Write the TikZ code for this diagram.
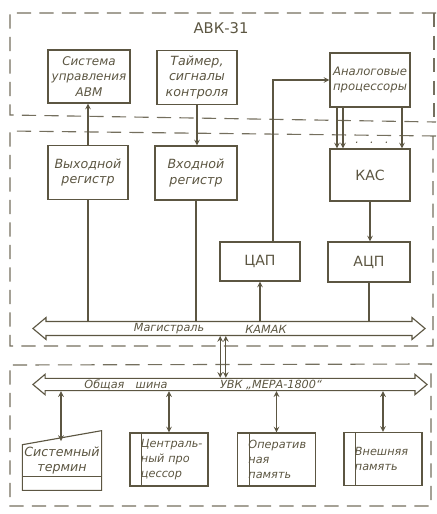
\documentclass[tikz,border=0pt]{standalone}
\usepackage{fontspec}
\setmainfont{DejaVu Sans}[ItalicFont={DejaVu Sans Oblique}]
\usepackage{tikz}
\usetikzlibrary{arrows,shapes,positioning}
\definecolor{ink}{RGB}{92,86,66}
\tikzstyle{block} = [rectangle, minimum width=2cm, minimum height=1.35cm, align=center, draw=ink, text=ink, line width=0.8pt, inner sep=1pt, font=\fontsize{9}{11}\selectfont\itshape]
\tikzstyle{bigblock} = [block, font=\fontsize{10}{12}\selectfont]
\tikzstyle{membox} = [block, minimum width=1.95cm, minimum height=1.325cm, text width=1.4cm, align=left, font=\fontsize{8}{10.5}\selectfont\itshape, path picture={\draw[ink, line width=0.8pt] ([xshift=0.29cm]path picture bounding box.north west) -- ([xshift=0.29cm]path picture bounding box.south west);}]
\tikzstyle{bus} = [shape=double arrow, draw=ink, line width=0.8pt, double arrow head extend=0.1cm, double arrow tip angle=80, inner xsep=0pt, inner ysep=0.16cm, minimum height=9.8cm]
\tikzstyle{tag} = [text=ink, inner sep=0pt, font=\fontsize{8}{10}\selectfont\itshape]
\tikzstyle{wire} = [draw=ink, line width=0.8pt]
\tikzstyle{arrow} = [wire,->,>=stealth]
\tikzstyle{link} = [wire,<->,>=stealth]
\tikzstyle{frame} = [draw=ink!85, line width=0.8pt, dash pattern=on 10pt off 6pt]

\begin{document}
\begin{tikzpicture}[x=0.025cm, y=-0.025cm]
\useasboundingbox (0,0) rectangle (436,514);
% Frames
\draw[frame] (436,13) -- (10,13) -- (10,115) -- (436,122);
\draw[frame] (434,13) -- (434,120);
\draw[frame] (436,136) -- (10,131) -- (10,346) -- (433,346) -- (433,136);
\draw[frame] (432,364) -- (10,365) -- (10,506) -- (431,506) -- (431,364);
\node (title) [text=ink, font=\fontsize{10.5}{12}\selectfont] at (221,28) {АВК-31};
% Upper units
\node (sys) [block, minimum width=2.05cm, minimum height=1.325cm, font=\fontsize{8.5}{11}\selectfont\itshape] at (89,76.5) {Система\\управления\\АВМ};
\node (timer) [block] at (197,77.5) {Таймер,\\сигналы\\контроля};
\node (analog) [block, font=\fontsize{8.3}{11}\selectfont\itshape] at (370,80) {Аналоговые\\процессоры};
\node (vyh) [block] at (88,172.5) {Выходной\\регистр};
\node (vh) [block, minimum width=2.05cm] at (196,173) {Входной\\регистр};
\node (kas) [bigblock, minimum height=1.3cm] at (370,175) {КАС};
\node (dac) [bigblock, minimum height=0.975cm] at (260,261.5) {ЦАП};
\node (adc) [bigblock, minimum width=2.05cm, minimum height=1cm] at (369,262) {АЦП};
\node[tag] at (372,143) {.\quad.\quad.};
% Buses
\node (kamak) [bus] at (229,328.5) {};
\node[tag] at (169,329) {Магистраль};
\node[tag] at (266,329) {КАМАК};
\node (mera) [bus, minimum height=9.85cm, inner ysep=0.14cm] at (230,384.5) {};
\node[tag] at (126,384.5) {Общая\quad шина};
\node[tag] at (271,384.5) {УВК „МЕРА-1800“};
\coordinate (bridge) at (223,0);
% Lower units
\node (term) [block, draw=none, minimum width=1.95cm, minimum height=0.625cm] at (62,460.5) {Системный\\термин};
\draw[wire] (term.north west) -- ([yshift=0.35cm]term.north east) -- ([yshift=-0.35cm]term.south east) -- ([yshift=-0.35cm]term.south west) -- cycle;
\draw[wire] (term.south west) -- (term.south east);
\coordinate (termtop) at (61,441);
\node (cpu) [membox] at (169,459.5) {Централь\mbox{-}\\ный про\\цессор};
\node (ram) [membox] at (276.5,459.5) {Оператив\\ная\\память};
\node (ext) [membox] at (383,459) {Внешняя\\память};
% Connectors
\draw[arrow] (vyh.north) -- (vyh.north |- sys.south);
\draw[arrow] (timer.south) -- (timer.south |- vh.north);
\draw[wire] (vyh.south) -- (vyh.south |- kamak.north);
\draw[wire] (vh.south) -- (vh.south |- kamak.north);
\draw[arrow] ([xshift=0.325cm]dac.north) |- (analog.west);
\draw[arrow] (dac.south |- kamak.north) -- (dac.south);
\foreach \dx in {-0.825,-0.675,0.8}
  \draw[arrow] ([xshift=\dx cm]analog.south) -- ([xshift=\dx cm]analog.south |- kas.north);
\draw[arrow] (kas.south) -- (kas.south |- adc.north);
\draw[wire] (adc.south) -- (adc.south |- kamak.north);
\foreach \dx in {-2,2}
  \draw[link] ([xshift=\dx pt]bridge |- kamak.south) -- ([xshift=\dx pt]bridge |- mera.north);
\draw[link] (termtop |- mera.south) -- (termtop);
\foreach \b in {cpu,ram,ext}
  \draw[link] (\b.north |- mera.south) -- (\b.north);
\end{tikzpicture}
\end{document}
